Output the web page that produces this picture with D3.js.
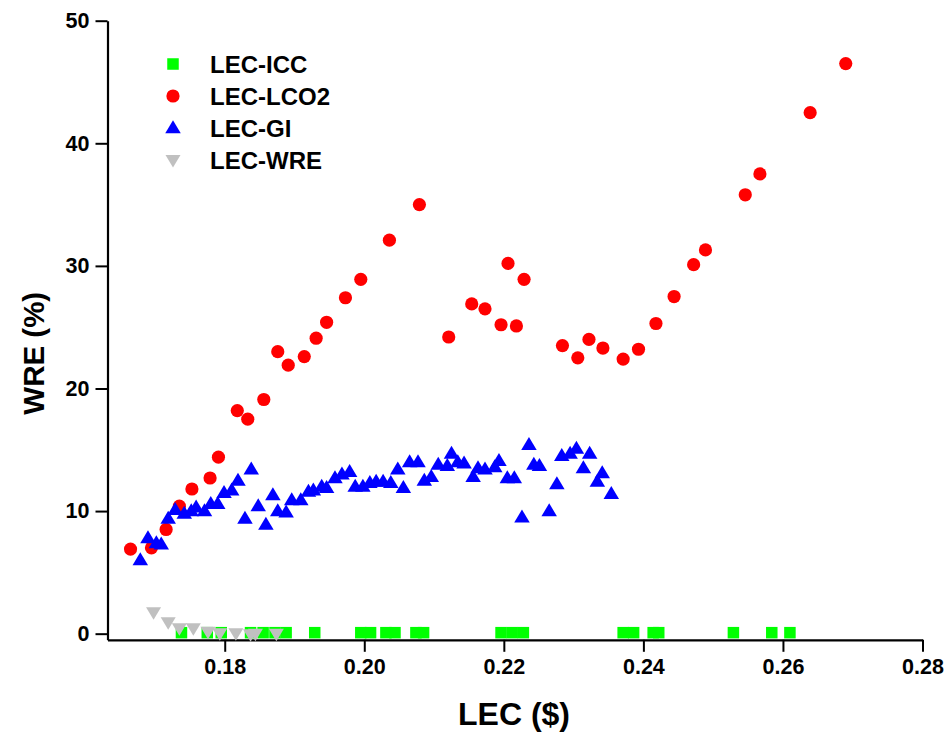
<!DOCTYPE html>
<html>
<head>
<meta charset="utf-8">
<script src="https://cdn.jsdelivr.net/npm/d3@7"></script>
<style>
  html, body { margin: 0; padding: 0; background: #fff; }
  svg { display: block; }
  text { font-family: "Liberation Sans", Arial, sans-serif; font-weight: bold; fill: #000; }
</style>
</head>
<body>
<svg id="chart" width="945" height="737"></svg>
<script>
// ---- Data ----
const seriesNames = ["LEC-ICC", "LEC-LCO2", "LEC-GI", "LEC-WRE"];

const iccX = [0.1738, 0.1775, 0.1795, 0.1837, 0.1855, 0.1872, 0.1888, 0.1929, 0.1995, 0.2009,
              0.2031, 0.2044, 0.2074, 0.2085, 0.2196, 0.2212, 0.2228, 0.2371, 0.2386, 0.2414,
              0.2422, 0.2529, 0.2584, 0.2610];
const iccY = [0, 0, 0, 0, 0, 0, 0, 0, 0, 0, 0, 0, 0, 0, 0, 0, 0, 0, 0, 0, 0, 0, 0, 0];

const lco2X = [0.1665, 0.1695, 0.1716, 0.1735, 0.1753, 0.1779, 0.1791, 0.1818, 0.1833, 0.1856,
               0.1876, 0.1891, 0.1914, 0.1931, 0.1946, 0.1973, 0.1995, 0.2036, 0.2079, 0.2121,
               0.2154, 0.2173, 0.2196, 0.2206, 0.2218, 0.2229, 0.2284, 0.2306, 0.2322, 0.2342,
               0.2371, 0.2393, 0.2418, 0.2444, 0.2472, 0.2489, 0.2546, 0.2567, 0.2639, 0.2690];
const lco2Y = [6.9, 7.0, 8.5, 10.4, 11.8, 12.7, 14.4, 18.2, 17.5, 19.1,
               23.0, 21.9, 22.6, 24.1, 25.4, 27.4, 28.9, 32.1, 35.0, 24.2,
               26.9, 26.5, 25.2, 30.2, 25.1, 28.9, 23.5, 22.5, 24.0, 23.3,
               22.4, 23.2, 25.3, 27.5, 30.1, 31.3, 35.8, 37.5, 42.5, 46.5];

const giX = [0.1679, 0.1690, 0.1702, 0.1709, 0.1719, 0.1729, 0.1742, 0.1752, 0.1759, 0.1771,
             0.1780, 0.1790, 0.1799, 0.1810, 0.1819, 0.1829, 0.1838, 0.1848, 0.1859, 0.1869,
             0.1876, 0.1888, 0.1896, 0.1909, 0.1920, 0.1927, 0.1939, 0.1946, 0.1958, 0.1968,
             0.1979, 0.1987, 0.1998, 0.2008, 0.2017, 0.2027, 0.2038, 0.2048, 0.2056, 0.2065,
             0.2077, 0.2086, 0.2096, 0.2106, 0.2119, 0.2125, 0.2134, 0.2143, 0.2156, 0.2163,
             0.2173, 0.2187, 0.2193, 0.2205, 0.2215, 0.2226, 0.2236, 0.2243, 0.2251, 0.2265,
             0.2276, 0.2283, 0.2295, 0.2304, 0.2314, 0.2323, 0.2334, 0.2341, 0.2354];
const giY = [6.0, 7.8, 7.4, 7.3, 9.4, 10.1, 9.8, 10.0, 10.3, 10.0,
             10.6, 10.6, 11.5, 11.7, 12.5, 9.4, 13.4, 10.4, 8.9, 11.3,
             10.0, 9.9, 10.9, 10.9, 11.6, 11.7, 12.0, 11.9, 12.7, 13.0,
             13.2, 12.0, 12.0, 12.3, 12.4, 12.4, 12.3, 13.4, 11.9, 14.0,
             14.0, 12.5, 12.8, 13.8, 13.7, 14.7, 14.0, 13.9, 12.8, 13.5,
             13.4, 13.6, 14.1, 12.7, 12.7, 9.5, 15.4, 13.8, 13.7, 10.0,
             12.2, 14.5, 14.7, 15.1, 13.5, 14.7, 12.4, 13.1, 11.4];

const wreX = [0.1698, 0.1719, 0.1735, 0.1755, 0.1776, 0.1793, 0.1816, 0.1837, 0.1844, 0.1874];
const wreY = [1.75, 0.93, 0.44, 0.44, 0.16, 0.03, 0.03, -0.05, 0.0, 0.0];

const xMajorTicks = [0.18, 0.20, 0.22, 0.24, 0.26, 0.28];
const xMinorTicks = [0.17, 0.19, 0.21, 0.23, 0.25, 0.27];
const yMajorTicks = [0, 10, 20, 30, 40, 50];
const yMinorTicks = [5, 15, 25, 35, 45];

const xTitle = "LEC ($)";
const yTitle = "WRE (%)";

// ---- Layout ----
const svg = d3.select("#chart");
const x = d3.scaleLinear().domain([0.1632, 0.28]).range([107.5, 922.5]);
const y = d3.scaleLinear().domain([-0.5, 50]).range([639.8, 20.7]);

const colors = { icc: "#00ff00", lco2: "#ff0000", gi: "#0000ff", wre: "#c0c0c0" };

// ---- Axes ----
const xAxisG = svg.append("g").attr("transform", `translate(0,${y(-0.5)})`);
xAxisG.call(d3.axisBottom(x).tickValues(xMinorTicks).tickSize(7).tickFormat(""));
xAxisG.call(d3.axisBottom(x).tickValues(xMajorTicks).tickSize(12).tickSizeOuter(0)
  .tickPadding(7).tickFormat(d3.format(".2f")));

const yAxisG = svg.append("g").attr("transform", `translate(${x(0.1632)},0)`);
yAxisG.call(d3.axisLeft(y).tickValues(yMinorTicks).tickSize(7).tickFormat(""));
yAxisG.call(d3.axisLeft(y).tickValues(yMajorTicks).tickSize(12).tickSizeOuter(0)
  .tickPadding(6).tickFormat(d3.format("d")));

svg.selectAll(".domain").attr("stroke", "#000").attr("stroke-width", 2.2);
svg.selectAll(".tick line").attr("stroke", "#000").attr("stroke-width", 2);
svg.selectAll(".tick text").style("font-size", "21.5px").style("font-weight", "bold")
  .style("font-family", '"Liberation Sans", Arial, sans-serif').attr("fill", "#000");

// ---- Titles ----
svg.append("text").attr("x", (x(0.1632) + x(0.28)) / 2 - 1).attr("y", 725)
  .attr("text-anchor", "middle").style("font-size", "32px").text(xTitle);
svg.append("text").attr("transform", `translate(44,${(y(-0.5) + y(50)) / 2 + 23}) rotate(-90)`)
  .attr("text-anchor", "middle").style("font-size", "29.5px").text(yTitle);

// ---- Marks ----
const sq = 11.5, r = 6.6;
const downPath = (() => {
  const h = 12.5, w = 15;
  return `M${-w / 2},${-h * 0.4}L${w / 2},${-h * 0.4}L0,${h * 0.6}Z`;
})();
const upPath = (() => {
  const h = 13, w = 15.5;
  return `M0,${-h * 0.6}L${w / 2},${h * 0.4}L${-w / 2},${h * 0.4}Z`;
})();

const icc = d3.range(iccX.length).map(i => ({ x: iccX[i], y: iccY[i] }));
const lco2 = d3.range(lco2X.length).map(i => ({ x: lco2X[i], y: lco2Y[i] }));
const gi = d3.range(giX.length).map(i => ({ x: giX[i], y: giY[i] }));
const wre = d3.range(wreX.length).map(i => ({ x: wreX[i], y: wreY[i] }));

svg.append("g").selectAll("rect").data(icc).join("rect")
  .attr("x", d => x(d.x) - sq / 2).attr("y", d => y(d.y) - sq / 2 - 1)
  .attr("width", sq).attr("height", sq).attr("fill", colors.icc);

svg.append("g").selectAll("circle").data(lco2).join("circle")
  .attr("cx", d => x(d.x)).attr("cy", d => y(d.y)).attr("r", r).attr("fill", colors.lco2);

svg.append("g").selectAll("path").data(gi).join("path")
  .attr("transform", d => `translate(${x(d.x)},${y(d.y)})`).attr("d", upPath).attr("fill", colors.gi);

svg.append("g").selectAll("path").data(wre).join("path")
  .attr("transform", d => `translate(${x(d.x)},${y(d.y)})`).attr("d", downPath).attr("fill", colors.wre);

// ---- Legend ----
const legendY = [64, 96, 128, 160];
const lg = svg.append("g");
lg.append("rect").attr("x", 173 - sq / 2).attr("y", legendY[0] - sq / 2).attr("width", sq).attr("height", sq).attr("fill", colors.icc);
lg.append("circle").attr("cx", 173).attr("cy", legendY[1]).attr("r", r).attr("fill", colors.lco2);
lg.append("path").attr("transform", `translate(173,${legendY[2]})`).attr("d", upPath).attr("fill", colors.gi);
lg.append("path").attr("transform", `translate(173,${legendY[3]})`).attr("d", downPath).attr("fill", colors.wre);
seriesNames.forEach((n, i) => {
  lg.append("text").attr("x", 210).attr("y", legendY[i]).attr("dy", "0.36em")
    .style("font-size", "24px").text(n);
});
</script>
</body>
</html>
